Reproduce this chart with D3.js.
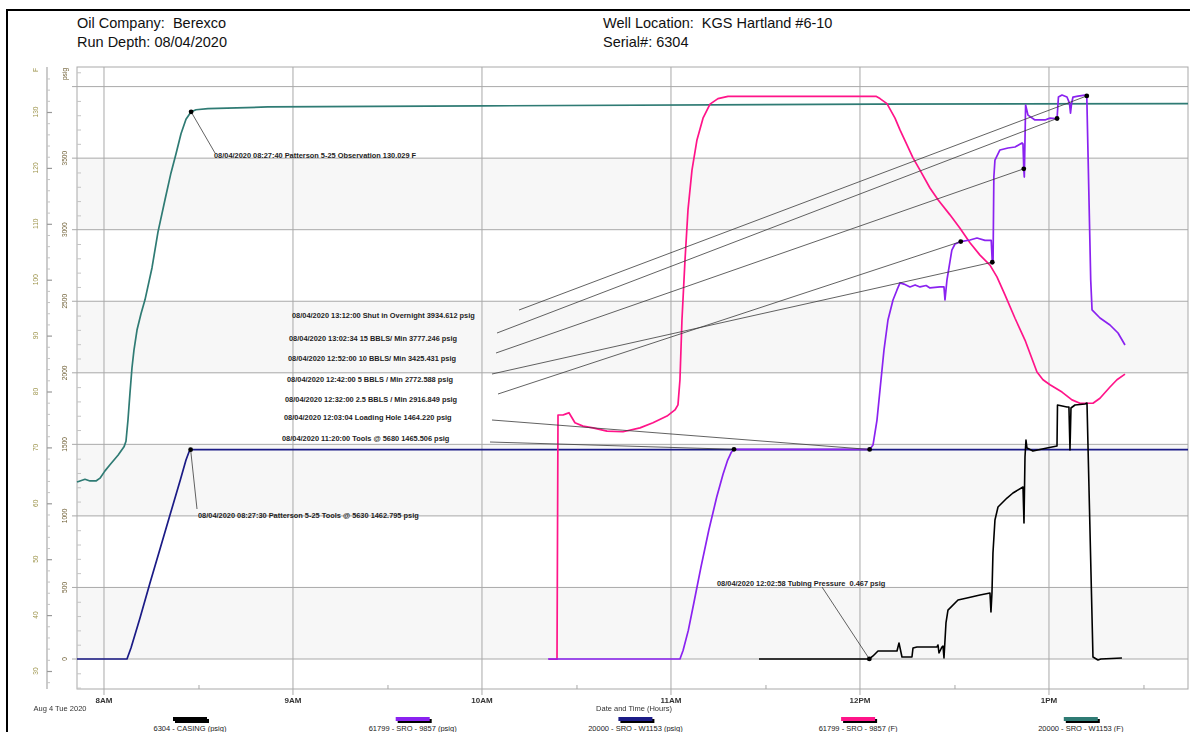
<!DOCTYPE html>
<html>
<head>
<meta charset="utf-8">
<script src="https://cdn.jsdelivr.net/npm/d3@7"></script>
<style>
  body { margin: 0; background: #fff; }
  svg { display: block; }
  text { font-family: "Liberation Sans", Arial, sans-serif; }
</style>
</head>
<body>
<svg id="chart" width="1190" height="732"></svg>
<script>
// ---- Header ----
const headerLeft = ["Oil Company:  Berexco", "Run Depth: 08/04/2020"];
const headerRight = ["Well Location:  KGS Hartland #6-10", "Serial#: 6304"];

// ---- Axis ticks ----
const hourTicks = ["08:00:00", "09:00:00", "10:00:00", "11:00:00", "12:00:00", "13:00:00"];
const halfHourTicks = ["08:30:00", "09:30:00", "10:30:00", "11:30:00", "12:30:00", "13:30:00"];
const psigTicks = [0, 500, 1000, 1500, 2000, 2500, 3000, 3500, 4000];
const psigLabels = [0, 500, 1000, 1500, 2000, 2500, 3000, 3500];
const tempTicks = [30, 40, 50, 60, 70, 80, 90, 100, 110, 120, 130];

// ---- Series: 6304 - CASING (psig) ----
const casingTimes = ["11:27:56","12:02:30","12:02:58","12:04:08","12:05:43","12:11:45","12:12:23","12:13:20","12:16:30","12:16:50","12:18:06","12:24:27","12:24:46","12:25:05","12:26:02","12:26:21","12:26:40","12:27:18","12:27:56","12:31:07","12:33:58","12:38:06","12:41:16","12:41:35","12:41:54","12:42:13","12:42:51","12:43:49","12:46:40","12:48:34","12:51:45","12:52:04","12:52:23","12:52:42","12:53:01","12:54:55","12:59:22","13:02:33","13:02:42","13:05:43","13:06:20","13:06:40","13:06:59","13:08:15","13:11:26","13:12:04","13:13:58","13:15:33","13:16:30","13:23:10"];
const casingPsig = [0.5,0.5,0.467,21,56,56,112,14,14,77,84,84,98,42,84,91,7,252,342,412,426,447,461,328,461,741,971,1062,1125,1160,1202,950,1412,1530,1474,1453,1474,1488,1775,1761,1761,1460,1754,1775,1782,1789,14,-7,0,7];

// ---- Series: 61799 - SRO - 9857 (psig) ----
const sroPsigTimes = ["10:20:57","11:02:51","11:03:50","11:05:30","11:07:20","11:09:30","11:12:00","11:14:30","11:16:30","11:18:00","11:19:10","11:20:00","11:40:00","12:03:04","12:04:08","12:05:24","12:06:21","12:07:37","12:08:53","12:10:29","12:11:45","12:12:42","12:13:58","12:15:52","12:17:30","12:19:03","12:21:00","12:22:13","12:25:24","12:26:40","12:26:59","12:27:18","12:27:37","12:29:10","12:30:10","12:32:00","12:34:55","12:37:08","12:39:41","12:41:40","12:42:00","12:42:15","12:42:30","12:42:51","12:44:26","12:46:59","12:49:13","12:51:26","12:51:45","12:52:00","12:52:10","12:52:35","12:53:20","12:55:33","12:58:44","13:00:19","13:02:14","13:02:34","13:03:00","13:04:08","13:05:43","13:06:30","13:06:50","13:07:10","13:07:37","13:09:13","13:11:26","13:12:00","13:13:15","13:13:40","13:16:12","13:19:22","13:21:55","13:24:08"];
const sroPsig = [0,0,60,200,400,640,900,1130,1290,1390,1445,1465.506,1465,1464.22,1495,1670,1880,2159,2369,2509,2579,2628,2620,2600,2614,2600,2610,2593,2600,2600,2509,2580,2650,2858,2900,2916.849,2928,2942,2925,2925,2772.588,2780,3368,3487,3557,3571,3578,3606,3600,3425.431,3368,3871,3801,3767,3767,3780,3777,3777.246,3927,3941,3927,3885,3815,3880,3927,3934,3941,3934.612,2648,2440,2383,2334,2278,2194];

// ---- Series: 20000 - SRO - W1153 (psig) ----
const w1153PsigTimes = ["07:51:26","08:07:18","08:08:34","08:11:26","08:14:36","08:17:47","08:20:57","08:24:08","08:26:02","08:26:59","08:27:30","08:30:29","10:00:00","12:00:00","13:44:08"];
const w1153Psig = [0,0,77,287,531,769,1006,1244,1391,1447,1462.795,1463,1463,1463.5,1463.5];

// ---- Series: 61799 - SRO - 9857 (F) ----
const sroTempTimes = ["10:21:16","10:23:49","10:24:08","10:25:43","10:26:40","10:27:37","10:29:31","10:32:04","10:35:14","10:39:41","10:44:46","10:50:10","10:54:17","10:58:44","11:01:16","11:02:13","11:02:51","11:03:29","11:04:27","11:05:24","11:06:40","11:08:15","11:10:10","11:12:23","11:14:55","11:18:06","11:40:57","12:05:05","12:06:21","12:08:34","12:11:07","12:12:42","12:14:55","12:16:50","12:19:03","12:22:13","12:24:46","12:28:34","12:31:45","12:34:55","12:38:06","12:41:16","12:43:29","12:46:02","12:49:13","12:52:23","12:56:11","12:58:06","13:00:19","13:04:08","13:07:18","13:09:50","13:13:58","13:16:11","13:19:22","13:21:35","13:24:08"];
const sroTemp = [32.1,32.1,75.8,75.8,76.0,76.2,74.4,73.8,73.5,72.9,72.8,73.5,74.4,75.6,76.7,77.6,82.1,92.8,103.5,112.5,119.6,125.0,128.9,131.4,132.4,132.8,132.8,132.8,132.4,131.5,128.9,126.8,124.1,121.8,119.6,116.4,114.3,111.6,109.2,106.6,104.4,102.6,100.5,97.3,93.1,89.2,83.5,82.1,81.2,79.9,78.5,77.9,77.9,78.8,80.8,82.1,83.1];

// ---- Series: 20000 - SRO - W1153 (F) ----
const w1153TempTimes = ["07:51:26","07:52:23","07:53:58","07:55:33","07:57:28","07:58:44","08:00:19","08:01:54","08:04:27","08:06:21","08:06:59","08:07:37","08:08:15","08:08:53","08:09:31","08:10:29","08:11:45","08:13:01","08:15:14","08:17:08","08:19:22","08:21:16","08:22:51","08:24:27","08:26:02","08:27:40","08:29:13","08:33:00","08:52:00","10:00:00","12:05:00","13:44:08"];
const w1153Temp = [63.8,64.0,64.3,64.0,64.0,64.5,65.8,66.9,68.6,70.1,71.1,74.9,79.7,84.2,87.4,91.0,93.9,96.4,102.1,108.5,114.3,119.1,122.5,126.1,128.7,130.029,130.4,130.6,130.9,131.1,131.4,131.5];

// ---- Legend ----
const legendLabels = ["6304 - CASING (psig)", "61799 - SRO - 9857 (psig)", "20000 - SRO - W1153 (psig)", "61799 - SRO - 9857 (F)", "20000 - SRO - W1153 (F)"];

// ---- Annotations ----
const noteSeries = ["w1153Temp","w1153Psig","sroPsig","sroPsig","sroPsig","sroPsig","sroPsig","sroPsig","sroPsig","casing"];
const noteTimes = ["08:27:40","08:27:30","13:12:00","13:02:34","12:52:00","12:42:00","12:32:00","12:03:04","11:20:00","12:02:58"];
const noteValues = [130.029,1462.795,3934.612,3777.246,3425.431,2772.588,2916.849,1464.220,1465.506,0.467];
const noteTexts = [
  "08/04/2020 08:27:40 Patterson 5-25 Observation 130.029 F",
  "08/04/2020 08:27:30 Patterson 5-25 Tools @ 5630 1462.795 psig",
  "08/04/2020 13:12:00 Shut in Overnight 3934.612 psig",
  "08/04/2020 13:02:34 15 BBLS/ Min 3777.246 psig",
  "08/04/2020 12:52:00 10 BBLS/ Min 3425.431 psig",
  "08/04/2020 12:42:00 5 BBLS / Min 2772.588 psig",
  "08/04/2020 12:32:00 2.5 BBLS / Min 2916.849 psig",
  "08/04/2020 12:03:04 Loading Hole 1464.220 psig",
  "08/04/2020 11:20:00 Tools @ 5680 1465.506 psig",
  "08/04/2020 12:02:58 Tubing Pressure  0.467 psig"
];
// label placement (text origin and leader-line start), in page pixels
const noteLayout = [
  {x:214, y:158, lx:215, ly:153},
  {x:198, y:518, lx:197, ly:509},
  {x:292, y:318, lx:519, ly:310},
  {x:289, y:341, lx:497, ly:333},
  {x:288, y:361, lx:496, ly:353},
  {x:287, y:382, lx:492, ly:374},
  {x:285, y:402, lx:498, ly:394},
  {x:284, y:420, lx:492, ly:420},
  {x:282, y:441, lx:490, ly:442},
  {x:717, y:586, lx:822, ly:587}
];

// ---- Drawing ----
const parse = d3.timeParse("%H:%M:%S");
const svg = d3.select("#chart");
const plot = {left: 77, right: 1188, top: 67, bottom: 689};

const x = d3.scaleTime().domain([parse("07:51:26"), parse("13:44:08")]).range([plot.left, plot.right]);
const yP = d3.scaleLinear().domain([0, 4000]).range([659, 86.6]);
const yF = d3.scaleLinear().domain([30, 130]).range([671, 112]);

const colors = {
  casing: "#000000",
  sroPsig: "#8a22f0",
  w1153Psig: "#1b1b86",
  sroTemp: "#ff1489",
  w1153Temp: "#2f7b74"
};
const gridColor = "#a9a9a9";

// outer frame
svg.append("path").attr("d", "M7,732 V10 H1190").attr("fill", "none").attr("stroke", "#000").attr("stroke-width", 2);

// header text
svg.selectAll(".hl").data(headerLeft).join("text")
  .attr("x", 77).attr("y", (d, i) => 28 + i * 19)
  .attr("font-size", 14.5).attr("fill", "#111").style("white-space", "pre").text(d => d);
svg.selectAll(".hr").data(headerRight).join("text")
  .attr("x", 603).attr("y", (d, i) => 28 + i * 19)
  .attr("font-size", 14.5).attr("fill", "#111").style("white-space", "pre").text(d => d);

// alternating background bands
svg.append("g").selectAll("rect").data([0, 1000, 2000, 3000]).join("rect")
  .attr("x", plot.left).attr("width", plot.right - plot.left)
  .attr("y", d => yP(d + 500)).attr("height", d => yP(d) - yP(d + 500))
  .attr("fill", "#f7f7f7");

// horizontal gridlines at psig ticks
svg.append("g").selectAll("line").data(psigTicks).join("line")
  .attr("x1", 72).attr("x2", plot.right)
  .attr("y1", d => yP(d)).attr("y2", d => yP(d))
  .attr("stroke", gridColor).attr("stroke-width", 1);

// vertical hour gridlines
svg.append("g").selectAll("line").data(hourTicks.map(parse)).join("line")
  .attr("x1", d => x(d)).attr("x2", d => x(d))
  .attr("y1", plot.top).attr("y2", plot.bottom + 6)
  .attr("stroke", gridColor).attr("stroke-width", 1);

// plot frame
svg.append("rect").attr("x", plot.left).attr("y", plot.top)
  .attr("width", plot.right - plot.left).attr("height", plot.bottom - plot.top)
  .attr("fill", "none").attr("stroke", gridColor).attr("stroke-width", 1);

// minor x ticks (half hours)
const xMinor = svg.append("g").attr("transform", `translate(0,${plot.bottom})`)
  .call(d3.axisBottom(x).tickValues(halfHourTicks.map(parse)).tickSizeInner(-4).tickSizeOuter(0).tickFormat(""));
xMinor.select(".domain").remove();
xMinor.selectAll("line").attr("stroke", gridColor);

// text layers use grayscale antialiasing
const txt = svg.append("g").attr("opacity", 0.999);

// x tick labels
const fmtHour = d3.timeFormat("%-I%p");
txt.append("g").selectAll("text").data(hourTicks.map(parse)).join("text")
  .attr("x", d => x(d)).attr("y", 703).attr("text-anchor", "middle")
  .attr("font-size", 8).attr("font-weight", "bold").attr("fill", "#333")
  .text(d => fmtHour(d));

txt.append("text").attr("x", 60).attr("y", 711).attr("text-anchor", "middle")
  .attr("font-size", 7.5).attr("fill", "#333").text("Aug 4 Tue 2020");
txt.append("text").attr("x", 634).attr("y", 711).attr("text-anchor", "middle")
  .attr("font-size", 7.5).attr("fill", "#333").text("Date and Time (Hours)");

// temperature axis (F)
svg.append("line").attr("x1", 47).attr("x2", 47).attr("y1", plot.top).attr("y2", plot.bottom)
  .attr("stroke", gridColor).attr("stroke-width", 1.2);
const fMajor = svg.append("g").attr("transform", "translate(47,0)")
  .call(d3.axisRight(yF).tickValues(tempTicks).tickSizeInner(5).tickSizeOuter(0).tickFormat(""));
fMajor.select(".domain").remove();
fMajor.selectAll("line").attr("stroke", "#999").attr("stroke-width", 1.2);
const fMinorVals = d3.range(28, 138, 2).filter(v => v % 10 !== 0);
const fMinor = svg.append("g").attr("transform", "translate(47,0)")
  .call(d3.axisRight(yF).tickValues(fMinorVals).tickSizeInner(3).tickSizeOuter(0).tickFormat(""));
fMinor.select(".domain").remove();
fMinor.selectAll("line").attr("stroke", "#c4c4c4");
txt.append("g").selectAll("text").data(tempTicks).join("text")
  .attr("transform", d => `translate(38,${yF(d)}) rotate(-90)`)
  .attr("text-anchor", "middle").attr("font-size", 6.6).attr("fill", "#9c934a")
  .text(d => d);
txt.append("text").attr("transform", "translate(38,70) rotate(-90)")
  .attr("text-anchor", "middle").attr("font-size", 6.6).attr("fill", "#9c934a").text("F");

// pressure axis (psig)
const pMinorVals = d3.range(-200, 4101, 100).filter(v => v % 500 !== 0);
const pMinor = svg.append("g").attr("transform", `translate(${plot.left},0)`)
  .call(d3.axisRight(yP).tickValues(pMinorVals).tickSizeInner(4).tickSizeOuter(0).tickFormat(""));
pMinor.select(".domain").remove();
pMinor.selectAll("line").attr("stroke", "#c4c4c4");
txt.append("g").selectAll("text").data(psigLabels).join("text")
  .attr("transform", d => `translate(67,${yP(d)}) rotate(-90)`)
  .attr("text-anchor", "middle").attr("font-size", 6.6).attr("fill", "#6e5e34")
  .text(d => d);
txt.append("text").attr("transform", "translate(67,74) rotate(-90)")
  .attr("text-anchor", "middle").attr("font-size", 6.6).attr("fill", "#6e5e34").text("psig");

// series lines
const seriesDefs = {
  w1153Psig: {times: w1153PsigTimes, values: w1153Psig, y: yP},
  w1153Temp: {times: w1153TempTimes, values: w1153Temp, y: yF},
  sroTemp:   {times: sroTempTimes, values: sroTemp, y: yF},
  sroPsig:   {times: sroPsigTimes, values: sroPsig, y: yP},
  casing:    {times: casingTimes, values: casingPsig, y: yP}
};
const drawOrder = ["w1153Psig", "w1153Temp", "sroTemp", "sroPsig", "casing"];
drawOrder.forEach(key => {
  const s = seriesDefs[key];
  const pts = s.times.map((t, i) => [parse(t), s.values[i]]);
  const line = d3.line().x(d => x(d[0])).y(d => s.y(d[1]));
  svg.append("path").datum(pts).attr("d", line)
    .attr("fill", "none").attr("stroke", colors[key])
    .attr("stroke-width", key === "casing" ? 1.6 : 1.7)
    .attr("stroke-linejoin", "round");
});

// annotations: leader lines, labels, markers
const notes = noteTexts.map((t, i) => {
  const s = seriesDefs[noteSeries[i]];
  return {
    text: t,
    px: x(parse(noteTimes[i])),
    py: s.y(noteValues[i]),
    lay: noteLayout[i]
  };
});
const ng = svg.append("g");
ng.selectAll("line").data(notes).join("line")
  .attr("x1", d => d.lay.lx).attr("y1", d => d.lay.ly)
  .attr("x2", d => d.px).attr("y2", d => d.py)
  .attr("stroke", "#3a3a3a").attr("stroke-width", 0.8);
const ngText = svg.append("g").attr("opacity", 0.999);
ngText.selectAll("text").data(notes).join("text")
  .attr("x", d => d.lay.x).attr("y", d => d.lay.y)
  .attr("font-size", 7.4).attr("font-weight", "bold").attr("fill", "#1e1e1e")
  .style("white-space", "pre").text(d => d.text);
ng.selectAll("circle").data(notes).join("circle")
  .attr("cx", d => d.px).attr("cy", d => d.py).attr("r", 2.4).attr("fill", "#000");

// legend
const legendKeys = ["casing", "sroPsig", "w1153Psig", "sroTemp", "w1153Temp"];
const lg = svg.append("g");
const lgText = svg.append("g").attr("opacity", 0.999);
legendLabels.forEach((lab, i) => {
  const cx = 190 + i * 222.7;
  lg.append("rect").attr("x", cx - 15).attr("y", 719).attr("width", 34).attr("height", 4).attr("fill", "#000");
  lg.append("rect").attr("x", cx - 17).attr("y", 717).attr("width", 34).attr("height", 4).attr("fill", colors[legendKeys[i]]);
  lgText.append("text").attr("x", cx).attr("y", 731).attr("text-anchor", "middle")
    .attr("font-size", 7.5).attr("fill", "#222").text(lab);
});
</script>
</body>
</html>
